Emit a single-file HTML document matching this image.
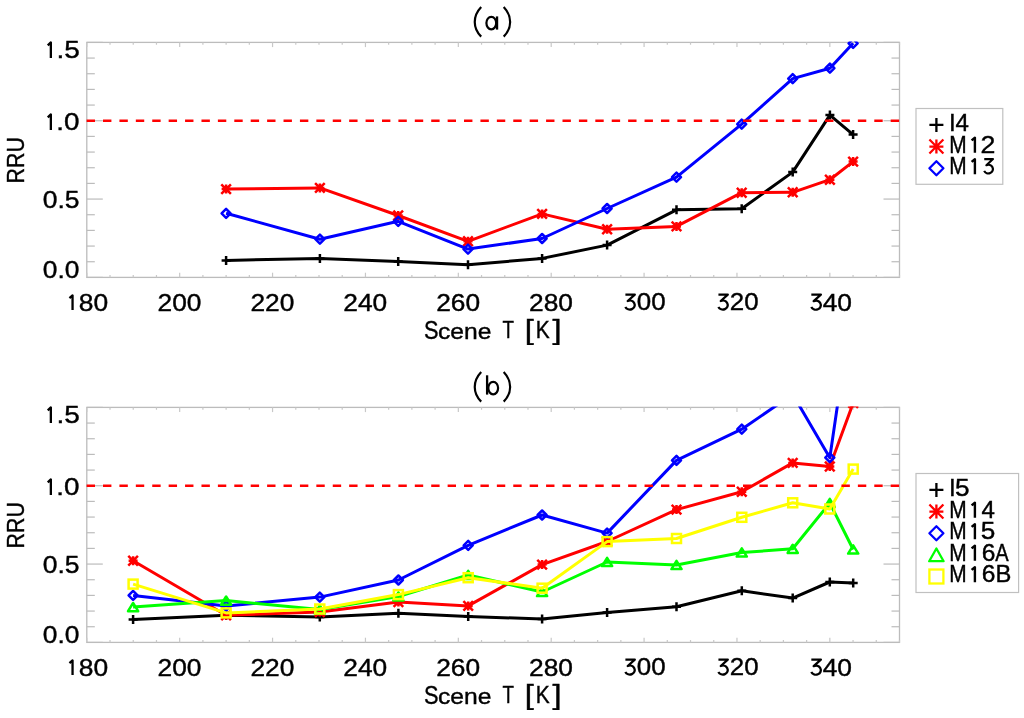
<!DOCTYPE html>
<html><head><meta charset="utf-8"><style>
html,body{margin:0;padding:0;background:#fff;}
svg{display:block;}
text{font-family:"Liberation Sans", sans-serif;}
#T{filter:grayscale(1);}
</style></head><body>
<svg width="1024" height="718" viewBox="0 0 1024 718">
<rect width="1024" height="718" fill="#fff"/>
<defs>
<clipPath id="ca"><rect x="85.8" y="41.4" width="814.7" height="236.99999999999997"/></clipPath>
<clipPath id="cb"><rect x="85.8" y="406.4" width="814.7" height="236.99999999999997"/></clipPath>
</defs>
<rect x="86.8" y="42.4" width="812.7" height="234.99999999999997" fill="none" stroke="#bcbcbc" stroke-width="1.3"/>
<line x1="86.80" y1="277.4" x2="86.80" y2="272.7" stroke="#c8c8c8" stroke-width="1.2"/>
<line x1="86.80" y1="42.4" x2="86.80" y2="47.1" stroke="#c8c8c8" stroke-width="1.2"/>
<line x1="110.02" y1="277.4" x2="110.02" y2="275.04999999999995" stroke="#c8c8c8" stroke-width="1.2"/>
<line x1="110.02" y1="42.4" x2="110.02" y2="44.75" stroke="#c8c8c8" stroke-width="1.2"/>
<line x1="133.24" y1="277.4" x2="133.24" y2="275.04999999999995" stroke="#c8c8c8" stroke-width="1.2"/>
<line x1="133.24" y1="42.4" x2="133.24" y2="44.75" stroke="#c8c8c8" stroke-width="1.2"/>
<line x1="156.46" y1="277.4" x2="156.46" y2="275.04999999999995" stroke="#c8c8c8" stroke-width="1.2"/>
<line x1="156.46" y1="42.4" x2="156.46" y2="44.75" stroke="#c8c8c8" stroke-width="1.2"/>
<line x1="179.68" y1="277.4" x2="179.68" y2="272.7" stroke="#c8c8c8" stroke-width="1.2"/>
<line x1="179.68" y1="42.4" x2="179.68" y2="47.1" stroke="#c8c8c8" stroke-width="1.2"/>
<line x1="202.90" y1="277.4" x2="202.90" y2="275.04999999999995" stroke="#c8c8c8" stroke-width="1.2"/>
<line x1="202.90" y1="42.4" x2="202.90" y2="44.75" stroke="#c8c8c8" stroke-width="1.2"/>
<line x1="226.12" y1="277.4" x2="226.12" y2="275.04999999999995" stroke="#c8c8c8" stroke-width="1.2"/>
<line x1="226.12" y1="42.4" x2="226.12" y2="44.75" stroke="#c8c8c8" stroke-width="1.2"/>
<line x1="249.34" y1="277.4" x2="249.34" y2="275.04999999999995" stroke="#c8c8c8" stroke-width="1.2"/>
<line x1="249.34" y1="42.4" x2="249.34" y2="44.75" stroke="#c8c8c8" stroke-width="1.2"/>
<line x1="272.56" y1="277.4" x2="272.56" y2="272.7" stroke="#c8c8c8" stroke-width="1.2"/>
<line x1="272.56" y1="42.4" x2="272.56" y2="47.1" stroke="#c8c8c8" stroke-width="1.2"/>
<line x1="295.78" y1="277.4" x2="295.78" y2="275.04999999999995" stroke="#c8c8c8" stroke-width="1.2"/>
<line x1="295.78" y1="42.4" x2="295.78" y2="44.75" stroke="#c8c8c8" stroke-width="1.2"/>
<line x1="319.00" y1="277.4" x2="319.00" y2="275.04999999999995" stroke="#c8c8c8" stroke-width="1.2"/>
<line x1="319.00" y1="42.4" x2="319.00" y2="44.75" stroke="#c8c8c8" stroke-width="1.2"/>
<line x1="342.22" y1="277.4" x2="342.22" y2="275.04999999999995" stroke="#c8c8c8" stroke-width="1.2"/>
<line x1="342.22" y1="42.4" x2="342.22" y2="44.75" stroke="#c8c8c8" stroke-width="1.2"/>
<line x1="365.44" y1="277.4" x2="365.44" y2="272.7" stroke="#c8c8c8" stroke-width="1.2"/>
<line x1="365.44" y1="42.4" x2="365.44" y2="47.1" stroke="#c8c8c8" stroke-width="1.2"/>
<line x1="388.66" y1="277.4" x2="388.66" y2="275.04999999999995" stroke="#c8c8c8" stroke-width="1.2"/>
<line x1="388.66" y1="42.4" x2="388.66" y2="44.75" stroke="#c8c8c8" stroke-width="1.2"/>
<line x1="411.88" y1="277.4" x2="411.88" y2="275.04999999999995" stroke="#c8c8c8" stroke-width="1.2"/>
<line x1="411.88" y1="42.4" x2="411.88" y2="44.75" stroke="#c8c8c8" stroke-width="1.2"/>
<line x1="435.10" y1="277.4" x2="435.10" y2="275.04999999999995" stroke="#c8c8c8" stroke-width="1.2"/>
<line x1="435.10" y1="42.4" x2="435.10" y2="44.75" stroke="#c8c8c8" stroke-width="1.2"/>
<line x1="458.32" y1="277.4" x2="458.32" y2="272.7" stroke="#c8c8c8" stroke-width="1.2"/>
<line x1="458.32" y1="42.4" x2="458.32" y2="47.1" stroke="#c8c8c8" stroke-width="1.2"/>
<line x1="481.54" y1="277.4" x2="481.54" y2="275.04999999999995" stroke="#c8c8c8" stroke-width="1.2"/>
<line x1="481.54" y1="42.4" x2="481.54" y2="44.75" stroke="#c8c8c8" stroke-width="1.2"/>
<line x1="504.76" y1="277.4" x2="504.76" y2="275.04999999999995" stroke="#c8c8c8" stroke-width="1.2"/>
<line x1="504.76" y1="42.4" x2="504.76" y2="44.75" stroke="#c8c8c8" stroke-width="1.2"/>
<line x1="527.98" y1="277.4" x2="527.98" y2="275.04999999999995" stroke="#c8c8c8" stroke-width="1.2"/>
<line x1="527.98" y1="42.4" x2="527.98" y2="44.75" stroke="#c8c8c8" stroke-width="1.2"/>
<line x1="551.20" y1="277.4" x2="551.20" y2="272.7" stroke="#c8c8c8" stroke-width="1.2"/>
<line x1="551.20" y1="42.4" x2="551.20" y2="47.1" stroke="#c8c8c8" stroke-width="1.2"/>
<line x1="574.42" y1="277.4" x2="574.42" y2="275.04999999999995" stroke="#c8c8c8" stroke-width="1.2"/>
<line x1="574.42" y1="42.4" x2="574.42" y2="44.75" stroke="#c8c8c8" stroke-width="1.2"/>
<line x1="597.64" y1="277.4" x2="597.64" y2="275.04999999999995" stroke="#c8c8c8" stroke-width="1.2"/>
<line x1="597.64" y1="42.4" x2="597.64" y2="44.75" stroke="#c8c8c8" stroke-width="1.2"/>
<line x1="620.86" y1="277.4" x2="620.86" y2="275.04999999999995" stroke="#c8c8c8" stroke-width="1.2"/>
<line x1="620.86" y1="42.4" x2="620.86" y2="44.75" stroke="#c8c8c8" stroke-width="1.2"/>
<line x1="644.08" y1="277.4" x2="644.08" y2="272.7" stroke="#c8c8c8" stroke-width="1.2"/>
<line x1="644.08" y1="42.4" x2="644.08" y2="47.1" stroke="#c8c8c8" stroke-width="1.2"/>
<line x1="667.30" y1="277.4" x2="667.30" y2="275.04999999999995" stroke="#c8c8c8" stroke-width="1.2"/>
<line x1="667.30" y1="42.4" x2="667.30" y2="44.75" stroke="#c8c8c8" stroke-width="1.2"/>
<line x1="690.52" y1="277.4" x2="690.52" y2="275.04999999999995" stroke="#c8c8c8" stroke-width="1.2"/>
<line x1="690.52" y1="42.4" x2="690.52" y2="44.75" stroke="#c8c8c8" stroke-width="1.2"/>
<line x1="713.74" y1="277.4" x2="713.74" y2="275.04999999999995" stroke="#c8c8c8" stroke-width="1.2"/>
<line x1="713.74" y1="42.4" x2="713.74" y2="44.75" stroke="#c8c8c8" stroke-width="1.2"/>
<line x1="736.96" y1="277.4" x2="736.96" y2="272.7" stroke="#c8c8c8" stroke-width="1.2"/>
<line x1="736.96" y1="42.4" x2="736.96" y2="47.1" stroke="#c8c8c8" stroke-width="1.2"/>
<line x1="760.18" y1="277.4" x2="760.18" y2="275.04999999999995" stroke="#c8c8c8" stroke-width="1.2"/>
<line x1="760.18" y1="42.4" x2="760.18" y2="44.75" stroke="#c8c8c8" stroke-width="1.2"/>
<line x1="783.40" y1="277.4" x2="783.40" y2="275.04999999999995" stroke="#c8c8c8" stroke-width="1.2"/>
<line x1="783.40" y1="42.4" x2="783.40" y2="44.75" stroke="#c8c8c8" stroke-width="1.2"/>
<line x1="806.62" y1="277.4" x2="806.62" y2="275.04999999999995" stroke="#c8c8c8" stroke-width="1.2"/>
<line x1="806.62" y1="42.4" x2="806.62" y2="44.75" stroke="#c8c8c8" stroke-width="1.2"/>
<line x1="829.84" y1="277.4" x2="829.84" y2="272.7" stroke="#c8c8c8" stroke-width="1.2"/>
<line x1="829.84" y1="42.4" x2="829.84" y2="47.1" stroke="#c8c8c8" stroke-width="1.2"/>
<line x1="853.06" y1="277.4" x2="853.06" y2="275.04999999999995" stroke="#c8c8c8" stroke-width="1.2"/>
<line x1="853.06" y1="42.4" x2="853.06" y2="44.75" stroke="#c8c8c8" stroke-width="1.2"/>
<line x1="876.28" y1="277.4" x2="876.28" y2="275.04999999999995" stroke="#c8c8c8" stroke-width="1.2"/>
<line x1="876.28" y1="42.4" x2="876.28" y2="44.75" stroke="#c8c8c8" stroke-width="1.2"/>
<line x1="899.50" y1="277.4" x2="899.50" y2="275.04999999999995" stroke="#c8c8c8" stroke-width="1.2"/>
<line x1="899.50" y1="42.4" x2="899.50" y2="44.75" stroke="#c8c8c8" stroke-width="1.2"/>
<line x1="86.8" y1="277.40" x2="102.8" y2="277.40" stroke="#bcbcbc" stroke-width="1.2"/>
<line x1="899.5" y1="277.40" x2="883.5" y2="277.40" stroke="#bcbcbc" stroke-width="1.2"/>
<line x1="86.8" y1="261.73" x2="94.8" y2="261.73" stroke="#bcbcbc" stroke-width="1.2"/>
<line x1="899.5" y1="261.73" x2="891.5" y2="261.73" stroke="#bcbcbc" stroke-width="1.2"/>
<line x1="86.8" y1="246.07" x2="94.8" y2="246.07" stroke="#bcbcbc" stroke-width="1.2"/>
<line x1="899.5" y1="246.07" x2="891.5" y2="246.07" stroke="#bcbcbc" stroke-width="1.2"/>
<line x1="86.8" y1="230.40" x2="94.8" y2="230.40" stroke="#bcbcbc" stroke-width="1.2"/>
<line x1="899.5" y1="230.40" x2="891.5" y2="230.40" stroke="#bcbcbc" stroke-width="1.2"/>
<line x1="86.8" y1="214.73" x2="94.8" y2="214.73" stroke="#bcbcbc" stroke-width="1.2"/>
<line x1="899.5" y1="214.73" x2="891.5" y2="214.73" stroke="#bcbcbc" stroke-width="1.2"/>
<line x1="86.8" y1="199.07" x2="102.8" y2="199.07" stroke="#bcbcbc" stroke-width="1.2"/>
<line x1="899.5" y1="199.07" x2="883.5" y2="199.07" stroke="#bcbcbc" stroke-width="1.2"/>
<line x1="86.8" y1="183.40" x2="94.8" y2="183.40" stroke="#bcbcbc" stroke-width="1.2"/>
<line x1="899.5" y1="183.40" x2="891.5" y2="183.40" stroke="#bcbcbc" stroke-width="1.2"/>
<line x1="86.8" y1="167.73" x2="94.8" y2="167.73" stroke="#bcbcbc" stroke-width="1.2"/>
<line x1="899.5" y1="167.73" x2="891.5" y2="167.73" stroke="#bcbcbc" stroke-width="1.2"/>
<line x1="86.8" y1="152.07" x2="94.8" y2="152.07" stroke="#bcbcbc" stroke-width="1.2"/>
<line x1="899.5" y1="152.07" x2="891.5" y2="152.07" stroke="#bcbcbc" stroke-width="1.2"/>
<line x1="86.8" y1="136.40" x2="94.8" y2="136.40" stroke="#bcbcbc" stroke-width="1.2"/>
<line x1="899.5" y1="136.40" x2="891.5" y2="136.40" stroke="#bcbcbc" stroke-width="1.2"/>
<line x1="86.8" y1="120.73" x2="102.8" y2="120.73" stroke="#bcbcbc" stroke-width="1.2"/>
<line x1="899.5" y1="120.73" x2="883.5" y2="120.73" stroke="#bcbcbc" stroke-width="1.2"/>
<line x1="86.8" y1="105.07" x2="94.8" y2="105.07" stroke="#bcbcbc" stroke-width="1.2"/>
<line x1="899.5" y1="105.07" x2="891.5" y2="105.07" stroke="#bcbcbc" stroke-width="1.2"/>
<line x1="86.8" y1="89.40" x2="94.8" y2="89.40" stroke="#bcbcbc" stroke-width="1.2"/>
<line x1="899.5" y1="89.40" x2="891.5" y2="89.40" stroke="#bcbcbc" stroke-width="1.2"/>
<line x1="86.8" y1="73.73" x2="94.8" y2="73.73" stroke="#bcbcbc" stroke-width="1.2"/>
<line x1="899.5" y1="73.73" x2="891.5" y2="73.73" stroke="#bcbcbc" stroke-width="1.2"/>
<line x1="86.8" y1="58.07" x2="94.8" y2="58.07" stroke="#bcbcbc" stroke-width="1.2"/>
<line x1="899.5" y1="58.07" x2="891.5" y2="58.07" stroke="#bcbcbc" stroke-width="1.2"/>
<line x1="86.8" y1="42.40" x2="102.8" y2="42.40" stroke="#bcbcbc" stroke-width="1.2"/>
<line x1="899.5" y1="42.40" x2="883.5" y2="42.40" stroke="#bcbcbc" stroke-width="1.2"/>
<rect x="86.8" y="407.4" width="812.7" height="235.0" fill="none" stroke="#bcbcbc" stroke-width="1.3"/>
<line x1="86.80" y1="642.4" x2="86.80" y2="637.6999999999999" stroke="#c8c8c8" stroke-width="1.2"/>
<line x1="86.80" y1="407.4" x2="86.80" y2="412.09999999999997" stroke="#c8c8c8" stroke-width="1.2"/>
<line x1="110.02" y1="642.4" x2="110.02" y2="640.05" stroke="#c8c8c8" stroke-width="1.2"/>
<line x1="110.02" y1="407.4" x2="110.02" y2="409.75" stroke="#c8c8c8" stroke-width="1.2"/>
<line x1="133.24" y1="642.4" x2="133.24" y2="640.05" stroke="#c8c8c8" stroke-width="1.2"/>
<line x1="133.24" y1="407.4" x2="133.24" y2="409.75" stroke="#c8c8c8" stroke-width="1.2"/>
<line x1="156.46" y1="642.4" x2="156.46" y2="640.05" stroke="#c8c8c8" stroke-width="1.2"/>
<line x1="156.46" y1="407.4" x2="156.46" y2="409.75" stroke="#c8c8c8" stroke-width="1.2"/>
<line x1="179.68" y1="642.4" x2="179.68" y2="637.6999999999999" stroke="#c8c8c8" stroke-width="1.2"/>
<line x1="179.68" y1="407.4" x2="179.68" y2="412.09999999999997" stroke="#c8c8c8" stroke-width="1.2"/>
<line x1="202.90" y1="642.4" x2="202.90" y2="640.05" stroke="#c8c8c8" stroke-width="1.2"/>
<line x1="202.90" y1="407.4" x2="202.90" y2="409.75" stroke="#c8c8c8" stroke-width="1.2"/>
<line x1="226.12" y1="642.4" x2="226.12" y2="640.05" stroke="#c8c8c8" stroke-width="1.2"/>
<line x1="226.12" y1="407.4" x2="226.12" y2="409.75" stroke="#c8c8c8" stroke-width="1.2"/>
<line x1="249.34" y1="642.4" x2="249.34" y2="640.05" stroke="#c8c8c8" stroke-width="1.2"/>
<line x1="249.34" y1="407.4" x2="249.34" y2="409.75" stroke="#c8c8c8" stroke-width="1.2"/>
<line x1="272.56" y1="642.4" x2="272.56" y2="637.6999999999999" stroke="#c8c8c8" stroke-width="1.2"/>
<line x1="272.56" y1="407.4" x2="272.56" y2="412.09999999999997" stroke="#c8c8c8" stroke-width="1.2"/>
<line x1="295.78" y1="642.4" x2="295.78" y2="640.05" stroke="#c8c8c8" stroke-width="1.2"/>
<line x1="295.78" y1="407.4" x2="295.78" y2="409.75" stroke="#c8c8c8" stroke-width="1.2"/>
<line x1="319.00" y1="642.4" x2="319.00" y2="640.05" stroke="#c8c8c8" stroke-width="1.2"/>
<line x1="319.00" y1="407.4" x2="319.00" y2="409.75" stroke="#c8c8c8" stroke-width="1.2"/>
<line x1="342.22" y1="642.4" x2="342.22" y2="640.05" stroke="#c8c8c8" stroke-width="1.2"/>
<line x1="342.22" y1="407.4" x2="342.22" y2="409.75" stroke="#c8c8c8" stroke-width="1.2"/>
<line x1="365.44" y1="642.4" x2="365.44" y2="637.6999999999999" stroke="#c8c8c8" stroke-width="1.2"/>
<line x1="365.44" y1="407.4" x2="365.44" y2="412.09999999999997" stroke="#c8c8c8" stroke-width="1.2"/>
<line x1="388.66" y1="642.4" x2="388.66" y2="640.05" stroke="#c8c8c8" stroke-width="1.2"/>
<line x1="388.66" y1="407.4" x2="388.66" y2="409.75" stroke="#c8c8c8" stroke-width="1.2"/>
<line x1="411.88" y1="642.4" x2="411.88" y2="640.05" stroke="#c8c8c8" stroke-width="1.2"/>
<line x1="411.88" y1="407.4" x2="411.88" y2="409.75" stroke="#c8c8c8" stroke-width="1.2"/>
<line x1="435.10" y1="642.4" x2="435.10" y2="640.05" stroke="#c8c8c8" stroke-width="1.2"/>
<line x1="435.10" y1="407.4" x2="435.10" y2="409.75" stroke="#c8c8c8" stroke-width="1.2"/>
<line x1="458.32" y1="642.4" x2="458.32" y2="637.6999999999999" stroke="#c8c8c8" stroke-width="1.2"/>
<line x1="458.32" y1="407.4" x2="458.32" y2="412.09999999999997" stroke="#c8c8c8" stroke-width="1.2"/>
<line x1="481.54" y1="642.4" x2="481.54" y2="640.05" stroke="#c8c8c8" stroke-width="1.2"/>
<line x1="481.54" y1="407.4" x2="481.54" y2="409.75" stroke="#c8c8c8" stroke-width="1.2"/>
<line x1="504.76" y1="642.4" x2="504.76" y2="640.05" stroke="#c8c8c8" stroke-width="1.2"/>
<line x1="504.76" y1="407.4" x2="504.76" y2="409.75" stroke="#c8c8c8" stroke-width="1.2"/>
<line x1="527.98" y1="642.4" x2="527.98" y2="640.05" stroke="#c8c8c8" stroke-width="1.2"/>
<line x1="527.98" y1="407.4" x2="527.98" y2="409.75" stroke="#c8c8c8" stroke-width="1.2"/>
<line x1="551.20" y1="642.4" x2="551.20" y2="637.6999999999999" stroke="#c8c8c8" stroke-width="1.2"/>
<line x1="551.20" y1="407.4" x2="551.20" y2="412.09999999999997" stroke="#c8c8c8" stroke-width="1.2"/>
<line x1="574.42" y1="642.4" x2="574.42" y2="640.05" stroke="#c8c8c8" stroke-width="1.2"/>
<line x1="574.42" y1="407.4" x2="574.42" y2="409.75" stroke="#c8c8c8" stroke-width="1.2"/>
<line x1="597.64" y1="642.4" x2="597.64" y2="640.05" stroke="#c8c8c8" stroke-width="1.2"/>
<line x1="597.64" y1="407.4" x2="597.64" y2="409.75" stroke="#c8c8c8" stroke-width="1.2"/>
<line x1="620.86" y1="642.4" x2="620.86" y2="640.05" stroke="#c8c8c8" stroke-width="1.2"/>
<line x1="620.86" y1="407.4" x2="620.86" y2="409.75" stroke="#c8c8c8" stroke-width="1.2"/>
<line x1="644.08" y1="642.4" x2="644.08" y2="637.6999999999999" stroke="#c8c8c8" stroke-width="1.2"/>
<line x1="644.08" y1="407.4" x2="644.08" y2="412.09999999999997" stroke="#c8c8c8" stroke-width="1.2"/>
<line x1="667.30" y1="642.4" x2="667.30" y2="640.05" stroke="#c8c8c8" stroke-width="1.2"/>
<line x1="667.30" y1="407.4" x2="667.30" y2="409.75" stroke="#c8c8c8" stroke-width="1.2"/>
<line x1="690.52" y1="642.4" x2="690.52" y2="640.05" stroke="#c8c8c8" stroke-width="1.2"/>
<line x1="690.52" y1="407.4" x2="690.52" y2="409.75" stroke="#c8c8c8" stroke-width="1.2"/>
<line x1="713.74" y1="642.4" x2="713.74" y2="640.05" stroke="#c8c8c8" stroke-width="1.2"/>
<line x1="713.74" y1="407.4" x2="713.74" y2="409.75" stroke="#c8c8c8" stroke-width="1.2"/>
<line x1="736.96" y1="642.4" x2="736.96" y2="637.6999999999999" stroke="#c8c8c8" stroke-width="1.2"/>
<line x1="736.96" y1="407.4" x2="736.96" y2="412.09999999999997" stroke="#c8c8c8" stroke-width="1.2"/>
<line x1="760.18" y1="642.4" x2="760.18" y2="640.05" stroke="#c8c8c8" stroke-width="1.2"/>
<line x1="760.18" y1="407.4" x2="760.18" y2="409.75" stroke="#c8c8c8" stroke-width="1.2"/>
<line x1="783.40" y1="642.4" x2="783.40" y2="640.05" stroke="#c8c8c8" stroke-width="1.2"/>
<line x1="783.40" y1="407.4" x2="783.40" y2="409.75" stroke="#c8c8c8" stroke-width="1.2"/>
<line x1="806.62" y1="642.4" x2="806.62" y2="640.05" stroke="#c8c8c8" stroke-width="1.2"/>
<line x1="806.62" y1="407.4" x2="806.62" y2="409.75" stroke="#c8c8c8" stroke-width="1.2"/>
<line x1="829.84" y1="642.4" x2="829.84" y2="637.6999999999999" stroke="#c8c8c8" stroke-width="1.2"/>
<line x1="829.84" y1="407.4" x2="829.84" y2="412.09999999999997" stroke="#c8c8c8" stroke-width="1.2"/>
<line x1="853.06" y1="642.4" x2="853.06" y2="640.05" stroke="#c8c8c8" stroke-width="1.2"/>
<line x1="853.06" y1="407.4" x2="853.06" y2="409.75" stroke="#c8c8c8" stroke-width="1.2"/>
<line x1="876.28" y1="642.4" x2="876.28" y2="640.05" stroke="#c8c8c8" stroke-width="1.2"/>
<line x1="876.28" y1="407.4" x2="876.28" y2="409.75" stroke="#c8c8c8" stroke-width="1.2"/>
<line x1="899.50" y1="642.4" x2="899.50" y2="640.05" stroke="#c8c8c8" stroke-width="1.2"/>
<line x1="899.50" y1="407.4" x2="899.50" y2="409.75" stroke="#c8c8c8" stroke-width="1.2"/>
<line x1="86.8" y1="642.40" x2="102.8" y2="642.40" stroke="#bcbcbc" stroke-width="1.2"/>
<line x1="899.5" y1="642.40" x2="883.5" y2="642.40" stroke="#bcbcbc" stroke-width="1.2"/>
<line x1="86.8" y1="626.73" x2="94.8" y2="626.73" stroke="#bcbcbc" stroke-width="1.2"/>
<line x1="899.5" y1="626.73" x2="891.5" y2="626.73" stroke="#bcbcbc" stroke-width="1.2"/>
<line x1="86.8" y1="611.07" x2="94.8" y2="611.07" stroke="#bcbcbc" stroke-width="1.2"/>
<line x1="899.5" y1="611.07" x2="891.5" y2="611.07" stroke="#bcbcbc" stroke-width="1.2"/>
<line x1="86.8" y1="595.40" x2="94.8" y2="595.40" stroke="#bcbcbc" stroke-width="1.2"/>
<line x1="899.5" y1="595.40" x2="891.5" y2="595.40" stroke="#bcbcbc" stroke-width="1.2"/>
<line x1="86.8" y1="579.73" x2="94.8" y2="579.73" stroke="#bcbcbc" stroke-width="1.2"/>
<line x1="899.5" y1="579.73" x2="891.5" y2="579.73" stroke="#bcbcbc" stroke-width="1.2"/>
<line x1="86.8" y1="564.07" x2="102.8" y2="564.07" stroke="#bcbcbc" stroke-width="1.2"/>
<line x1="899.5" y1="564.07" x2="883.5" y2="564.07" stroke="#bcbcbc" stroke-width="1.2"/>
<line x1="86.8" y1="548.40" x2="94.8" y2="548.40" stroke="#bcbcbc" stroke-width="1.2"/>
<line x1="899.5" y1="548.40" x2="891.5" y2="548.40" stroke="#bcbcbc" stroke-width="1.2"/>
<line x1="86.8" y1="532.73" x2="94.8" y2="532.73" stroke="#bcbcbc" stroke-width="1.2"/>
<line x1="899.5" y1="532.73" x2="891.5" y2="532.73" stroke="#bcbcbc" stroke-width="1.2"/>
<line x1="86.8" y1="517.07" x2="94.8" y2="517.07" stroke="#bcbcbc" stroke-width="1.2"/>
<line x1="899.5" y1="517.07" x2="891.5" y2="517.07" stroke="#bcbcbc" stroke-width="1.2"/>
<line x1="86.8" y1="501.40" x2="94.8" y2="501.40" stroke="#bcbcbc" stroke-width="1.2"/>
<line x1="899.5" y1="501.40" x2="891.5" y2="501.40" stroke="#bcbcbc" stroke-width="1.2"/>
<line x1="86.8" y1="485.73" x2="102.8" y2="485.73" stroke="#bcbcbc" stroke-width="1.2"/>
<line x1="899.5" y1="485.73" x2="883.5" y2="485.73" stroke="#bcbcbc" stroke-width="1.2"/>
<line x1="86.8" y1="470.07" x2="94.8" y2="470.07" stroke="#bcbcbc" stroke-width="1.2"/>
<line x1="899.5" y1="470.07" x2="891.5" y2="470.07" stroke="#bcbcbc" stroke-width="1.2"/>
<line x1="86.8" y1="454.40" x2="94.8" y2="454.40" stroke="#bcbcbc" stroke-width="1.2"/>
<line x1="899.5" y1="454.40" x2="891.5" y2="454.40" stroke="#bcbcbc" stroke-width="1.2"/>
<line x1="86.8" y1="438.73" x2="94.8" y2="438.73" stroke="#bcbcbc" stroke-width="1.2"/>
<line x1="899.5" y1="438.73" x2="891.5" y2="438.73" stroke="#bcbcbc" stroke-width="1.2"/>
<line x1="86.8" y1="423.07" x2="94.8" y2="423.07" stroke="#bcbcbc" stroke-width="1.2"/>
<line x1="899.5" y1="423.07" x2="891.5" y2="423.07" stroke="#bcbcbc" stroke-width="1.2"/>
<line x1="86.8" y1="407.40" x2="102.8" y2="407.40" stroke="#bcbcbc" stroke-width="1.2"/>
<line x1="899.5" y1="407.40" x2="883.5" y2="407.40" stroke="#bcbcbc" stroke-width="1.2"/>
<g clip-path="url(#ca)">
<polyline points="226.10,260.40 319.90,258.50 398.20,261.40 468.00,264.80 542.10,258.40 607.10,245.10 676.50,209.80 741.70,208.80 792.70,172.10 829.90,115.10 853.10,134.60" fill="none" stroke="#000000" stroke-width="3" stroke-linejoin="round"/>
<path d="M221.60 260.40H230.60M226.10 255.90V264.90" stroke="#000000" stroke-width="2.5" fill="none"/>
<path d="M315.40 258.50H324.40M319.90 254.00V263.00" stroke="#000000" stroke-width="2.5" fill="none"/>
<path d="M393.70 261.40H402.70M398.20 256.90V265.90" stroke="#000000" stroke-width="2.5" fill="none"/>
<path d="M463.50 264.80H472.50M468.00 260.30V269.30" stroke="#000000" stroke-width="2.5" fill="none"/>
<path d="M537.60 258.40H546.60M542.10 253.90V262.90" stroke="#000000" stroke-width="2.5" fill="none"/>
<path d="M602.60 245.10H611.60M607.10 240.60V249.60" stroke="#000000" stroke-width="2.5" fill="none"/>
<path d="M672.00 209.80H681.00M676.50 205.30V214.30" stroke="#000000" stroke-width="2.5" fill="none"/>
<path d="M737.20 208.80H746.20M741.70 204.30V213.30" stroke="#000000" stroke-width="2.5" fill="none"/>
<path d="M788.20 172.10H797.20M792.70 167.60V176.60" stroke="#000000" stroke-width="2.5" fill="none"/>
<path d="M825.40 115.10H834.40M829.90 110.60V119.60" stroke="#000000" stroke-width="2.5" fill="none"/>
<path d="M848.60 134.60H857.60M853.10 130.10V139.10" stroke="#000000" stroke-width="2.5" fill="none"/>
</g>
<g clip-path="url(#ca)">
<polyline points="226.10,189.10 319.90,187.90 398.20,215.50 468.00,241.30 542.10,213.90 607.10,229.20 676.50,226.40 741.70,192.70 792.70,192.30 829.90,179.70 853.10,161.60" fill="none" stroke="#ff0000" stroke-width="3" stroke-linejoin="round"/>
<path d="M221.60 189.10H230.60M226.10 184.60V193.60M221.28 184.28L230.91 193.91M221.28 193.91L230.91 184.28" stroke="#ff0000" stroke-width="2.5" fill="none"/>
<path d="M315.40 187.90H324.40M319.90 183.40V192.40M315.08 183.09L324.71 192.72M315.08 192.72L324.71 183.09" stroke="#ff0000" stroke-width="2.5" fill="none"/>
<path d="M393.70 215.50H402.70M398.20 211.00V220.00M393.38 210.69L403.01 220.31M393.38 220.31L403.01 210.69" stroke="#ff0000" stroke-width="2.5" fill="none"/>
<path d="M463.50 241.30H472.50M468.00 236.80V245.80M463.19 236.49L472.81 246.12M463.19 246.12L472.81 236.49" stroke="#ff0000" stroke-width="2.5" fill="none"/>
<path d="M537.60 213.90H546.60M542.10 209.40V218.40M537.28 209.09L546.92 218.72M537.28 218.72L546.92 209.09" stroke="#ff0000" stroke-width="2.5" fill="none"/>
<path d="M602.60 229.20H611.60M607.10 224.70V233.70M602.28 224.38L611.92 234.01M602.28 234.01L611.92 224.38" stroke="#ff0000" stroke-width="2.5" fill="none"/>
<path d="M672.00 226.40H681.00M676.50 221.90V230.90M671.68 221.59L681.32 231.22M671.68 231.22L681.32 221.59" stroke="#ff0000" stroke-width="2.5" fill="none"/>
<path d="M737.20 192.70H746.20M741.70 188.20V197.20M736.88 187.88L746.52 197.51M736.88 197.51L746.52 187.88" stroke="#ff0000" stroke-width="2.5" fill="none"/>
<path d="M788.20 192.30H797.20M792.70 187.80V196.80M787.88 187.49L797.52 197.12M787.88 197.12L797.52 187.49" stroke="#ff0000" stroke-width="2.5" fill="none"/>
<path d="M825.40 179.70H834.40M829.90 175.20V184.20M825.08 174.88L834.72 184.51M825.08 184.51L834.72 174.88" stroke="#ff0000" stroke-width="2.5" fill="none"/>
<path d="M848.60 161.60H857.60M853.10 157.10V166.10M848.28 156.78L857.92 166.41M848.28 166.41L857.92 156.78" stroke="#ff0000" stroke-width="2.5" fill="none"/>
</g>
<g clip-path="url(#ca)">
<polyline points="226.10,213.30 319.90,239.20 398.20,221.30 468.00,249.10 542.10,238.50 607.10,208.50 676.50,177.20 741.70,124.20 792.70,78.60 829.90,68.20 853.10,43.30" fill="none" stroke="#0000ff" stroke-width="3" stroke-linejoin="round"/>
<path d="M226.10 208.80L230.60 213.30L226.10 217.80L221.60 213.30Z" stroke="#0000ff" stroke-width="2.5" fill="none" stroke-linejoin="round"/>
<path d="M319.90 234.70L324.40 239.20L319.90 243.70L315.40 239.20Z" stroke="#0000ff" stroke-width="2.5" fill="none" stroke-linejoin="round"/>
<path d="M398.20 216.80L402.70 221.30L398.20 225.80L393.70 221.30Z" stroke="#0000ff" stroke-width="2.5" fill="none" stroke-linejoin="round"/>
<path d="M468.00 244.60L472.50 249.10L468.00 253.60L463.50 249.10Z" stroke="#0000ff" stroke-width="2.5" fill="none" stroke-linejoin="round"/>
<path d="M542.10 234.00L546.60 238.50L542.10 243.00L537.60 238.50Z" stroke="#0000ff" stroke-width="2.5" fill="none" stroke-linejoin="round"/>
<path d="M607.10 204.00L611.60 208.50L607.10 213.00L602.60 208.50Z" stroke="#0000ff" stroke-width="2.5" fill="none" stroke-linejoin="round"/>
<path d="M676.50 172.70L681.00 177.20L676.50 181.70L672.00 177.20Z" stroke="#0000ff" stroke-width="2.5" fill="none" stroke-linejoin="round"/>
<path d="M741.70 119.70L746.20 124.20L741.70 128.70L737.20 124.20Z" stroke="#0000ff" stroke-width="2.5" fill="none" stroke-linejoin="round"/>
<path d="M792.70 74.10L797.20 78.60L792.70 83.10L788.20 78.60Z" stroke="#0000ff" stroke-width="2.5" fill="none" stroke-linejoin="round"/>
<path d="M829.90 63.70L834.40 68.20L829.90 72.70L825.40 68.20Z" stroke="#0000ff" stroke-width="2.5" fill="none" stroke-linejoin="round"/>
<path d="M853.10 38.80L857.60 43.30L853.10 47.80L848.60 43.30Z" stroke="#0000ff" stroke-width="2.5" fill="none" stroke-linejoin="round"/>
</g>
<g clip-path="url(#ca)"><line x1="86.6" y1="120.73" x2="899.5" y2="120.73" stroke="#ff0000" stroke-width="2.4" stroke-dasharray="8.4 8.01"/></g>
<g clip-path="url(#cb)">
<polyline points="133.10,619.60 226.10,615.30 319.80,617.00 398.40,613.20 468.20,616.40 542.10,619.10 607.10,612.60 676.50,606.80 741.80,590.80 792.70,598.10 829.80,582.00 853.20,583.10" fill="none" stroke="#000000" stroke-width="3" stroke-linejoin="round"/>
<path d="M128.60 619.60H137.60M133.10 615.10V624.10" stroke="#000000" stroke-width="2.5" fill="none"/>
<path d="M221.60 615.30H230.60M226.10 610.80V619.80" stroke="#000000" stroke-width="2.5" fill="none"/>
<path d="M315.30 617.00H324.30M319.80 612.50V621.50" stroke="#000000" stroke-width="2.5" fill="none"/>
<path d="M393.90 613.20H402.90M398.40 608.70V617.70" stroke="#000000" stroke-width="2.5" fill="none"/>
<path d="M463.70 616.40H472.70M468.20 611.90V620.90" stroke="#000000" stroke-width="2.5" fill="none"/>
<path d="M537.60 619.10H546.60M542.10 614.60V623.60" stroke="#000000" stroke-width="2.5" fill="none"/>
<path d="M602.60 612.60H611.60M607.10 608.10V617.10" stroke="#000000" stroke-width="2.5" fill="none"/>
<path d="M672.00 606.80H681.00M676.50 602.30V611.30" stroke="#000000" stroke-width="2.5" fill="none"/>
<path d="M737.30 590.80H746.30M741.80 586.30V595.30" stroke="#000000" stroke-width="2.5" fill="none"/>
<path d="M788.20 598.10H797.20M792.70 593.60V602.60" stroke="#000000" stroke-width="2.5" fill="none"/>
<path d="M825.30 582.00H834.30M829.80 577.50V586.50" stroke="#000000" stroke-width="2.5" fill="none"/>
<path d="M848.70 583.10H857.70M853.20 578.60V587.60" stroke="#000000" stroke-width="2.5" fill="none"/>
</g>
<g clip-path="url(#cb)">
<polyline points="133.10,560.80 226.10,615.20 319.80,612.00 398.40,602.00 468.20,605.90 542.10,564.60 607.10,541.50 676.50,509.60 741.80,491.80 792.70,462.90 829.80,466.50 853.20,403.00" fill="none" stroke="#ff0000" stroke-width="3" stroke-linejoin="round"/>
<path d="M128.60 560.80H137.60M133.10 556.30V565.30M128.28 555.98L137.91 565.62M128.28 565.62L137.91 555.98" stroke="#ff0000" stroke-width="2.5" fill="none"/>
<path d="M221.60 615.20H230.60M226.10 610.70V619.70M221.28 610.38L230.91 620.02M221.28 620.02L230.91 610.38" stroke="#ff0000" stroke-width="2.5" fill="none"/>
<path d="M315.30 612.00H324.30M319.80 607.50V616.50M314.99 607.18L324.62 616.82M314.99 616.82L324.62 607.18" stroke="#ff0000" stroke-width="2.5" fill="none"/>
<path d="M393.90 602.00H402.90M398.40 597.50V606.50M393.58 597.18L403.21 606.82M393.58 606.82L403.21 597.18" stroke="#ff0000" stroke-width="2.5" fill="none"/>
<path d="M463.70 605.90H472.70M468.20 601.40V610.40M463.38 601.08L473.01 610.72M463.38 610.72L473.01 601.08" stroke="#ff0000" stroke-width="2.5" fill="none"/>
<path d="M537.60 564.60H546.60M542.10 560.10V569.10M537.28 559.78L546.92 569.42M537.28 569.42L546.92 559.78" stroke="#ff0000" stroke-width="2.5" fill="none"/>
<path d="M602.60 541.50H611.60M607.10 537.00V546.00M602.28 536.68L611.92 546.32M602.28 546.32L611.92 536.68" stroke="#ff0000" stroke-width="2.5" fill="none"/>
<path d="M672.00 509.60H681.00M676.50 505.10V514.10M671.68 504.79L681.32 514.42M671.68 514.42L681.32 504.79" stroke="#ff0000" stroke-width="2.5" fill="none"/>
<path d="M737.30 491.80H746.30M741.80 487.30V496.30M736.98 486.99L746.62 496.62M736.98 496.62L746.62 486.99" stroke="#ff0000" stroke-width="2.5" fill="none"/>
<path d="M788.20 462.90H797.20M792.70 458.40V467.40M787.88 458.08L797.52 467.71M787.88 467.71L797.52 458.08" stroke="#ff0000" stroke-width="2.5" fill="none"/>
<path d="M825.30 466.50H834.30M829.80 462.00V471.00M824.98 461.69L834.62 471.31M824.98 471.31L834.62 461.69" stroke="#ff0000" stroke-width="2.5" fill="none"/>
<path d="M848.70 403.00H857.70M853.20 398.50V407.50M848.38 398.19L858.02 407.81M848.38 407.81L858.02 398.19" stroke="#ff0000" stroke-width="2.5" fill="none"/>
</g>
<g clip-path="url(#cb)">
<polyline points="133.10,595.40 226.10,606.00 319.80,597.10 398.40,580.00 468.20,545.30 542.10,515.00 607.10,533.10 676.50,460.40 741.80,429.20 792.70,394.30 829.80,457.70 853.20,298.00" fill="none" stroke="#0000ff" stroke-width="3" stroke-linejoin="round"/>
<path d="M133.10 590.90L137.60 595.40L133.10 599.90L128.60 595.40Z" stroke="#0000ff" stroke-width="2.5" fill="none" stroke-linejoin="round"/>
<path d="M226.10 601.50L230.60 606.00L226.10 610.50L221.60 606.00Z" stroke="#0000ff" stroke-width="2.5" fill="none" stroke-linejoin="round"/>
<path d="M319.80 592.60L324.30 597.10L319.80 601.60L315.30 597.10Z" stroke="#0000ff" stroke-width="2.5" fill="none" stroke-linejoin="round"/>
<path d="M398.40 575.50L402.90 580.00L398.40 584.50L393.90 580.00Z" stroke="#0000ff" stroke-width="2.5" fill="none" stroke-linejoin="round"/>
<path d="M468.20 540.80L472.70 545.30L468.20 549.80L463.70 545.30Z" stroke="#0000ff" stroke-width="2.5" fill="none" stroke-linejoin="round"/>
<path d="M542.10 510.50L546.60 515.00L542.10 519.50L537.60 515.00Z" stroke="#0000ff" stroke-width="2.5" fill="none" stroke-linejoin="round"/>
<path d="M607.10 528.60L611.60 533.10L607.10 537.60L602.60 533.10Z" stroke="#0000ff" stroke-width="2.5" fill="none" stroke-linejoin="round"/>
<path d="M676.50 455.90L681.00 460.40L676.50 464.90L672.00 460.40Z" stroke="#0000ff" stroke-width="2.5" fill="none" stroke-linejoin="round"/>
<path d="M741.80 424.70L746.30 429.20L741.80 433.70L737.30 429.20Z" stroke="#0000ff" stroke-width="2.5" fill="none" stroke-linejoin="round"/>
<path d="M792.70 389.80L797.20 394.30L792.70 398.80L788.20 394.30Z" stroke="#0000ff" stroke-width="2.5" fill="none" stroke-linejoin="round"/>
<path d="M829.80 453.20L834.30 457.70L829.80 462.20L825.30 457.70Z" stroke="#0000ff" stroke-width="2.5" fill="none" stroke-linejoin="round"/>
<path d="M853.20 293.50L857.70 298.00L853.20 302.50L848.70 298.00Z" stroke="#0000ff" stroke-width="2.5" fill="none" stroke-linejoin="round"/>
</g>
<g clip-path="url(#cb)">
<polyline points="133.10,607.10 226.10,600.60 319.80,609.50 398.40,596.50 468.20,575.00 542.10,592.00 607.10,562.00 676.50,565.00 741.80,552.50 792.70,548.80 829.80,503.00 853.20,549.50" fill="none" stroke="#00ff00" stroke-width="3" stroke-linejoin="round"/>
<path d="M128.01 611.20L138.19 611.20L133.10 603.00Z" stroke="#00ff00" stroke-width="2.5" fill="none" stroke-linejoin="round"/>
<path d="M221.01 604.70L231.19 604.70L226.10 596.50Z" stroke="#00ff00" stroke-width="2.5" fill="none" stroke-linejoin="round"/>
<path d="M314.72 613.60L324.88 613.60L319.80 605.40Z" stroke="#00ff00" stroke-width="2.5" fill="none" stroke-linejoin="round"/>
<path d="M393.31 600.60L403.48 600.60L398.40 592.40Z" stroke="#00ff00" stroke-width="2.5" fill="none" stroke-linejoin="round"/>
<path d="M463.12 579.10L473.28 579.10L468.20 570.90Z" stroke="#00ff00" stroke-width="2.5" fill="none" stroke-linejoin="round"/>
<path d="M537.01 596.10L547.19 596.10L542.10 587.90Z" stroke="#00ff00" stroke-width="2.5" fill="none" stroke-linejoin="round"/>
<path d="M602.01 566.10L612.19 566.10L607.10 557.90Z" stroke="#00ff00" stroke-width="2.5" fill="none" stroke-linejoin="round"/>
<path d="M671.41 569.10L681.59 569.10L676.50 560.90Z" stroke="#00ff00" stroke-width="2.5" fill="none" stroke-linejoin="round"/>
<path d="M736.71 556.60L746.88 556.60L741.80 548.40Z" stroke="#00ff00" stroke-width="2.5" fill="none" stroke-linejoin="round"/>
<path d="M787.62 552.89L797.79 552.89L792.70 544.70Z" stroke="#00ff00" stroke-width="2.5" fill="none" stroke-linejoin="round"/>
<path d="M824.71 507.10L834.88 507.10L829.80 498.90Z" stroke="#00ff00" stroke-width="2.5" fill="none" stroke-linejoin="round"/>
<path d="M848.12 553.60L858.29 553.60L853.20 545.40Z" stroke="#00ff00" stroke-width="2.5" fill="none" stroke-linejoin="round"/>
</g>
<g clip-path="url(#cb)">
<polyline points="133.10,584.10 226.10,612.90 319.80,609.00 398.40,594.60 468.20,577.70 542.10,588.20 607.10,541.60 676.50,538.50 741.80,517.30 792.70,502.80 829.80,509.00 853.20,469.10" fill="none" stroke="#ffff00" stroke-width="3" stroke-linejoin="round"/>
<rect x="128.60" y="579.60" width="9.00" height="9.00" stroke="#ffff00" stroke-width="2.5" fill="none"/>
<rect x="221.60" y="608.40" width="9.00" height="9.00" stroke="#ffff00" stroke-width="2.5" fill="none"/>
<rect x="315.30" y="604.50" width="9.00" height="9.00" stroke="#ffff00" stroke-width="2.5" fill="none"/>
<rect x="393.90" y="590.10" width="9.00" height="9.00" stroke="#ffff00" stroke-width="2.5" fill="none"/>
<rect x="463.70" y="573.20" width="9.00" height="9.00" stroke="#ffff00" stroke-width="2.5" fill="none"/>
<rect x="537.60" y="583.70" width="9.00" height="9.00" stroke="#ffff00" stroke-width="2.5" fill="none"/>
<rect x="602.60" y="537.10" width="9.00" height="9.00" stroke="#ffff00" stroke-width="2.5" fill="none"/>
<rect x="672.00" y="534.00" width="9.00" height="9.00" stroke="#ffff00" stroke-width="2.5" fill="none"/>
<rect x="737.30" y="512.80" width="9.00" height="9.00" stroke="#ffff00" stroke-width="2.5" fill="none"/>
<rect x="788.20" y="498.30" width="9.00" height="9.00" stroke="#ffff00" stroke-width="2.5" fill="none"/>
<rect x="825.30" y="504.50" width="9.00" height="9.00" stroke="#ffff00" stroke-width="2.5" fill="none"/>
<rect x="848.70" y="464.60" width="9.00" height="9.00" stroke="#ffff00" stroke-width="2.5" fill="none"/>
</g>
<g clip-path="url(#cb)"><line x1="86.6" y1="485.73" x2="899.5" y2="485.73" stroke="#ff0000" stroke-width="2.4" stroke-dasharray="8.4 8.01"/></g>
<path d="M47.75 45.28 L50.85 42.45 V57.90" fill="none" stroke="#000" stroke-width="2.3" stroke-linejoin="round" stroke-linecap="butt"/>
<path d="M47.75 117.28 L50.85 114.45 V129.90" fill="none" stroke="#000" stroke-width="2.3" stroke-linejoin="round" stroke-linecap="butt"/>
<path d="M69.45 298.07 L72.55 295.45 V310.00" fill="none" stroke="#000" stroke-width="2.3" stroke-linejoin="round" stroke-linecap="butt"/>
<path d="M625.40 294.60 L634.80 294.60 L627.71 301.02 A4.95 4.45 0 1 1 625.31 306.93" fill="none" stroke="#000" stroke-width="2.3" stroke-linejoin="round" stroke-linecap="butt"/>
<path d="M718.44 294.60 L727.80 294.60 L720.74 301.02 A4.93 4.45 0 1 1 718.36 306.93" fill="none" stroke="#000" stroke-width="2.3" stroke-linejoin="round" stroke-linecap="butt"/>
<path d="M811.33 294.62 L820.88 294.62 L813.68 301.11 A5.03 4.50 0 1 1 811.25 307.09" fill="none" stroke="#000" stroke-width="2.3" stroke-linejoin="round" stroke-linecap="butt"/>
<path d="M47.75 410.28 L50.85 407.45 V422.90" fill="none" stroke="#000" stroke-width="2.3" stroke-linejoin="round" stroke-linecap="butt"/>
<path d="M47.75 482.28 L50.85 479.45 V494.90" fill="none" stroke="#000" stroke-width="2.3" stroke-linejoin="round" stroke-linecap="butt"/>
<path d="M69.45 663.07 L72.55 660.45 V675.00" fill="none" stroke="#000" stroke-width="2.3" stroke-linejoin="round" stroke-linecap="butt"/>
<path d="M625.40 659.60 L634.80 659.60 L627.71 666.02 A4.95 4.45 0 1 1 625.31 671.93" fill="none" stroke="#000" stroke-width="2.3" stroke-linejoin="round" stroke-linecap="butt"/>
<path d="M718.44 659.60 L727.80 659.60 L720.74 666.02 A4.93 4.45 0 1 1 718.36 671.93" fill="none" stroke="#000" stroke-width="2.3" stroke-linejoin="round" stroke-linecap="butt"/>
<path d="M811.33 659.62 L820.88 659.62 L813.68 666.11 A5.03 4.50 0 1 1 811.25 672.09" fill="none" stroke="#000" stroke-width="2.3" stroke-linejoin="round" stroke-linecap="butt"/>
<g fill="none" stroke="#000" stroke-width="2.2">
<path d="M481.2 6.9 C472.6 16 472.6 28 481.2 36.6"/>
<path d="M503.7 6.9 C512.3 16 512.3 28 503.7 36.6"/>
<ellipse cx="491.3" cy="23.1" rx="4.9" ry="6.25"/>
<path d="M497.05 16.4 V29.6" stroke-width="2.3"/>
</g>
<g fill="none" stroke="#000" stroke-width="2.2">
<path d="M481.2 371.9 C472.6 381.0 472.6 393.0 481.2 401.6"/>
<path d="M503.7 371.9 C512.3 381.0 512.3 393.0 503.7 401.6"/>
<ellipse cx="493.2" cy="388.1" rx="4.9" ry="6.25"/>
<path d="M487.1 375.3 V394.6" stroke-width="2.3"/>
</g>
<rect x="916" y="108.5" width="86.79999999999995" height="75.80000000000001" fill="#fff" stroke="#c0c0c0" stroke-width="1.2"/>
<path d="M929.40 124.90H943.40M936.40 117.90V131.90" stroke="#000000" stroke-width="2.3" fill="none"/>
<path d="M929.40 146.55H943.40M936.40 139.55V153.55M929.40 139.55L943.40 153.55M929.40 153.55L943.40 139.55" stroke="#ff0000" stroke-width="2.3" fill="none"/>
<path d="M971.60 140.39 L974.90 137.70 V152.70" fill="none" stroke="#000" stroke-width="2.4" stroke-linejoin="round" stroke-linecap="butt"/>
<path d="M936.40 161.20L943.40 168.20L936.40 175.20L929.40 168.20Z" stroke="#0000ff" stroke-width="2.3" fill="none" stroke-linejoin="round"/>
<path d="M971.60 161.89 L974.90 159.20 V174.20" fill="none" stroke="#000" stroke-width="2.4" stroke-linejoin="round" stroke-linecap="butt"/>
<path d="M984.25 159.05 L992.97 159.05 L986.39 165.20 A4.59 4.27 0 1 1 984.17 170.88" fill="none" stroke="#000" stroke-width="2.2" stroke-linejoin="round" stroke-linecap="butt"/>
<rect x="916" y="473.5" width="102.60000000000002" height="119.0" fill="#fff" stroke="#c0c0c0" stroke-width="1.2"/>
<path d="M929.40 489.90H943.40M936.40 482.90V496.90" stroke="#000000" stroke-width="2.3" fill="none"/>
<path d="M929.40 511.55H943.40M936.40 504.55V518.55M929.40 504.55L943.40 518.55M929.40 518.55L943.40 504.55" stroke="#ff0000" stroke-width="2.3" fill="none"/>
<path d="M971.60 505.39 L974.90 502.70 V517.70" fill="none" stroke="#000" stroke-width="2.4" stroke-linejoin="round" stroke-linecap="butt"/>
<path d="M936.40 526.20L943.40 533.20L936.40 540.20L929.40 533.20Z" stroke="#0000ff" stroke-width="2.3" fill="none" stroke-linejoin="round"/>
<path d="M971.60 526.89 L974.90 524.20 V539.20" fill="none" stroke="#000" stroke-width="2.4" stroke-linejoin="round" stroke-linecap="butt"/>
<path d="M929.19 561.22L943.61 561.22L936.40 548.48Z" stroke="#00ff00" stroke-width="2.3" fill="none" stroke-linejoin="round"/>
<path d="M971.60 548.39 L974.90 545.70 V560.70" fill="none" stroke="#000" stroke-width="2.4" stroke-linejoin="round" stroke-linecap="butt"/>
<rect x="929.40" y="569.50" width="14.00" height="14.00" stroke="#ffff00" stroke-width="2.3" fill="none"/>
<path d="M971.60 569.89 L974.90 567.20 V582.20" fill="none" stroke="#000" stroke-width="2.4" stroke-linejoin="round" stroke-linecap="butt"/>
<g id="T"><text transform="translate(56.48,58.45) scale(1.1264,1)" font-size="24.86" fill="#000" stroke="#000" stroke-width="0.4">.5</text>
<text transform="translate(56.29,130.15) scale(1.1367,1)" font-size="24.51" fill="#000" stroke="#000" stroke-width="0.4">.0</text>
<text transform="translate(42.74,208.36) scale(1.1128,1)" font-size="23.80" fill="#000" stroke="#000" stroke-width="0.4">0.5</text>
<text transform="translate(42.75,278.06) scale(1.0808,1)" font-size="24.37" fill="#000" stroke="#000" stroke-width="0.4">0.0</text>
<text transform="translate(78.84,310.56) scale(1.1029,1)" font-size="23.94" fill="#000" stroke="#000" stroke-width="0.4">80</text>
<text transform="translate(157.56,310.66) scale(1.0932,1)" font-size="24.08" fill="#000" stroke="#000" stroke-width="0.4">200</text>
<text transform="translate(250.44,310.66) scale(1.0932,1)" font-size="24.08" fill="#000" stroke="#000" stroke-width="0.4">220</text>
<text transform="translate(343.32,310.66) scale(1.0932,1)" font-size="24.08" fill="#000" stroke="#000" stroke-width="0.4">240</text>
<text transform="translate(436.20,310.66) scale(1.0932,1)" font-size="24.08" fill="#000" stroke="#000" stroke-width="0.4">260</text>
<text transform="translate(529.08,310.66) scale(1.0932,1)" font-size="24.08" fill="#000" stroke="#000" stroke-width="0.4">280</text>
<text transform="translate(636.76,310.46) scale(1.0763,1)" font-size="24.08" fill="#000" stroke="#000" stroke-width="0.4">00</text>
<text transform="translate(729.81,310.46) scale(1.0746,1)" font-size="24.08" fill="#000" stroke="#000" stroke-width="0.4">20</text>
<text transform="translate(822.67,310.66) scale(1.0827,1)" font-size="24.37" fill="#000" stroke="#000" stroke-width="0.4">40</text>
<text transform="translate(424.11,338.95) scale(0.8629,1)" font-size="25.21" fill="#000" stroke="#000" stroke-width="0.4">S</text>
<text transform="translate(438.01,338.87) scale(1.0852,1)" font-size="22.73" fill="#000" stroke="#000" stroke-width="0.4">cene</text>
<text transform="translate(502.52,337.90) scale(0.8045,1)" font-size="23.33" fill="#000" stroke="#000" stroke-width="0.4">T</text>
<text transform="translate(524.83,338.98) scale(1.1934,1)" font-size="27.23" fill="#000" stroke="#000" stroke-width="0.4">[</text>
<text transform="translate(535.73,337.90) scale(0.8947,1)" font-size="23.33" fill="#000" stroke="#000" stroke-width="0.4">K</text>
<text transform="translate(552.47,338.98) scale(1.1934,1)" font-size="27.23" fill="#000" stroke="#000" stroke-width="0.4">]</text>
<text transform="translate(56.48,423.45) scale(1.1264,1)" font-size="24.86" fill="#000" stroke="#000" stroke-width="0.4">.5</text>
<text transform="translate(56.29,495.15) scale(1.1367,1)" font-size="24.51" fill="#000" stroke="#000" stroke-width="0.4">.0</text>
<text transform="translate(42.74,573.36) scale(1.1128,1)" font-size="23.80" fill="#000" stroke="#000" stroke-width="0.4">0.5</text>
<text transform="translate(42.75,643.06) scale(1.0808,1)" font-size="24.37" fill="#000" stroke="#000" stroke-width="0.4">0.0</text>
<text transform="translate(78.84,675.56) scale(1.1029,1)" font-size="23.94" fill="#000" stroke="#000" stroke-width="0.4">80</text>
<text transform="translate(157.56,675.66) scale(1.0932,1)" font-size="24.08" fill="#000" stroke="#000" stroke-width="0.4">200</text>
<text transform="translate(250.44,675.66) scale(1.0932,1)" font-size="24.08" fill="#000" stroke="#000" stroke-width="0.4">220</text>
<text transform="translate(343.32,675.66) scale(1.0932,1)" font-size="24.08" fill="#000" stroke="#000" stroke-width="0.4">240</text>
<text transform="translate(436.20,675.66) scale(1.0932,1)" font-size="24.08" fill="#000" stroke="#000" stroke-width="0.4">260</text>
<text transform="translate(529.08,675.66) scale(1.0932,1)" font-size="24.08" fill="#000" stroke="#000" stroke-width="0.4">280</text>
<text transform="translate(636.76,675.46) scale(1.0763,1)" font-size="24.08" fill="#000" stroke="#000" stroke-width="0.4">00</text>
<text transform="translate(729.81,675.46) scale(1.0746,1)" font-size="24.08" fill="#000" stroke="#000" stroke-width="0.4">20</text>
<text transform="translate(822.67,675.66) scale(1.0827,1)" font-size="24.37" fill="#000" stroke="#000" stroke-width="0.4">40</text>
<text transform="translate(424.11,703.95) scale(0.8629,1)" font-size="25.21" fill="#000" stroke="#000" stroke-width="0.4">S</text>
<text transform="translate(438.01,703.87) scale(1.0852,1)" font-size="22.73" fill="#000" stroke="#000" stroke-width="0.4">cene</text>
<text transform="translate(502.52,702.90) scale(0.8045,1)" font-size="23.33" fill="#000" stroke="#000" stroke-width="0.4">T</text>
<text transform="translate(524.83,703.98) scale(1.1934,1)" font-size="27.23" fill="#000" stroke="#000" stroke-width="0.4">[</text>
<text transform="translate(535.73,702.90) scale(0.8947,1)" font-size="23.33" fill="#000" stroke="#000" stroke-width="0.4">K</text>
<text transform="translate(552.47,703.98) scale(1.1934,1)" font-size="27.23" fill="#000" stroke="#000" stroke-width="0.4">]</text>
<text transform="translate(23.67,183.41) rotate(-90) scale(0.9280,1)" font-size="23.00" fill="#000" stroke="#000" stroke-width="0.4">RRU</text>
<text transform="translate(23.67,548.41) rotate(-90) scale(0.9280,1)" font-size="23.00" fill="#000" stroke="#000" stroke-width="0.4">RRU</text>
<text transform="translate(949.04,131.20) scale(1.0222,1)" font-size="23.48" fill="#000" stroke="#000" stroke-width="0.4">I</text>
<text transform="translate(955.62,131.44) scale(1.0123,1)" font-size="23.82" fill="#000" stroke="#000" stroke-width="0.4">4</text>
<text transform="translate(949.33,152.70) scale(0.8900,1)" font-size="23.48" fill="#000" stroke="#000" stroke-width="0.4">M</text>
<text transform="translate(980.56,152.70) scale(1.1554,1)" font-size="23.14" fill="#000" stroke="#000" stroke-width="0.4">2</text>
<text transform="translate(949.33,174.20) scale(0.8900,1)" font-size="23.48" fill="#000" stroke="#000" stroke-width="0.4">M</text>
<text transform="translate(949.04,496.20) scale(1.0222,1)" font-size="23.48" fill="#000" stroke="#000" stroke-width="0.4">I</text>
<text transform="translate(955.05,495.97) scale(1.1308,1)" font-size="23.14" fill="#000" stroke="#000" stroke-width="0.4">5</text>
<text transform="translate(949.33,517.70) scale(0.8900,1)" font-size="23.48" fill="#000" stroke="#000" stroke-width="0.4">M</text>
<text transform="translate(981.42,517.94) scale(1.0123,1)" font-size="23.82" fill="#000" stroke="#000" stroke-width="0.4">4</text>
<text transform="translate(949.33,539.20) scale(0.8900,1)" font-size="23.48" fill="#000" stroke="#000" stroke-width="0.4">M</text>
<text transform="translate(980.85,538.97) scale(1.1308,1)" font-size="23.14" fill="#000" stroke="#000" stroke-width="0.4">5</text>
<text transform="translate(949.33,560.70) scale(0.8900,1)" font-size="23.48" fill="#000" stroke="#000" stroke-width="0.4">M</text>
<text transform="translate(981.67,560.67) scale(1.0507,1)" font-size="23.38" fill="#000" stroke="#000" stroke-width="0.4">6</text>
<text transform="translate(995.20,560.70) scale(0.8583,1)" font-size="23.48" fill="#000" stroke="#000" stroke-width="0.4">A</text>
<text transform="translate(949.33,582.20) scale(0.8900,1)" font-size="23.48" fill="#000" stroke="#000" stroke-width="0.4">M</text>
<text transform="translate(981.67,582.17) scale(1.0507,1)" font-size="23.38" fill="#000" stroke="#000" stroke-width="0.4">6</text>
<text transform="translate(995.40,582.20) scale(1.0126,1)" font-size="23.48" fill="#000" stroke="#000" stroke-width="0.4">B</text></g>
</svg></body></html>
